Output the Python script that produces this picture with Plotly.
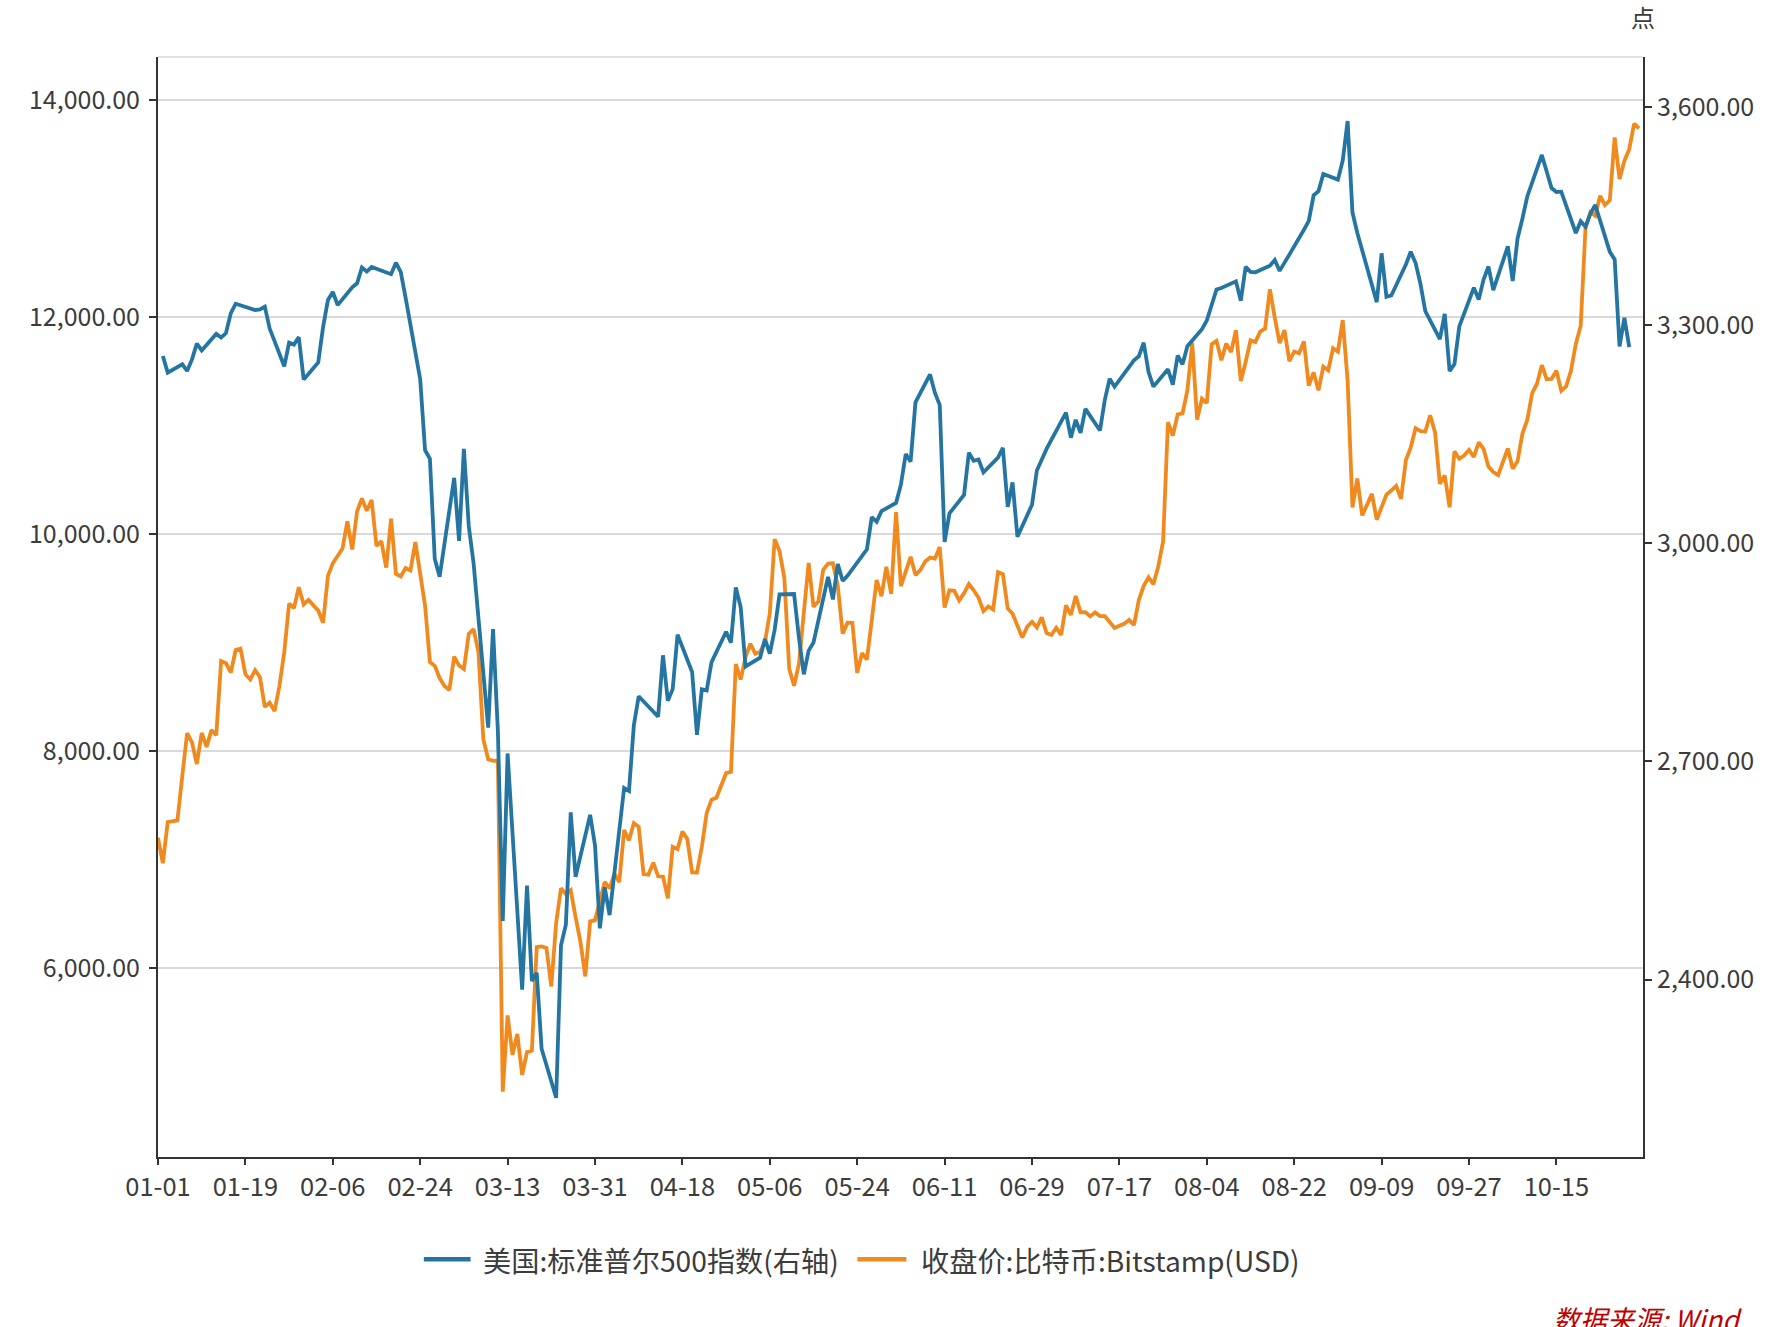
import plotly.graph_objects as go
import pandas as pd

# ---------------- data ----------------
YEAR = "2020"

# S&P 500 trading days (MM-DD) and closes (right axis)
sp_dates = [
    "01-02","01-03","01-06","01-07","01-08","01-09","01-10","01-13","01-14","01-15","01-16","01-17",
    "01-21","01-22","01-23","01-24","01-27","01-28","01-29","01-30","01-31",
    "02-03","02-04","02-05","02-06","02-07","02-10","02-11","02-12","02-13","02-14","02-18","02-19",
    "02-20","02-21","02-24","02-25","02-26","02-27","02-28",
    "03-02","03-03","03-04","03-05","03-06","03-09","03-10","03-11","03-12","03-13","03-16","03-17",
    "03-18","03-19","03-20","03-23","03-24","03-25","03-26","03-27","03-30","03-31",
    "04-01","04-02","04-03","04-06","04-07","04-08","04-09","04-13","04-14","04-15","04-16","04-17",
    "04-20","04-21","04-22","04-23","04-24","04-27","04-28","04-29","04-30",
    "05-01","05-04","05-05","05-06","05-07","05-08","05-11","05-12","05-13","05-14","05-15","05-18",
    "05-19","05-20","05-21","05-22","05-26","05-27","05-28","05-29",
    "06-01","06-02","06-03","06-04","06-05","06-08","06-09","06-10","06-11","06-12","06-15","06-16",
    "06-17","06-18","06-19","06-22","06-23","06-24","06-25","06-26","06-29","06-30",
    "07-01","07-02","07-06","07-07","07-08","07-09","07-10","07-13","07-14","07-15","07-16","07-17",
    "07-20","07-21","07-22","07-23","07-24","07-27","07-28","07-29","07-30","07-31",
    "08-03","08-04","08-05","08-06","08-07","08-10","08-11","08-12","08-13","08-14","08-17","08-18",
    "08-19","08-20","08-21","08-24","08-25","08-26","08-27","08-28","08-31",
    "09-01","09-02","09-03","09-04","09-08","09-09","09-10","09-11","09-14","09-15","09-16","09-17",
    "09-18","09-21","09-22","09-23","09-24","09-25","09-28","09-29","09-30",
    "10-01","10-02","10-05","10-06","10-07","10-08","10-09","10-12","10-13","10-14","10-15","10-16",
    "10-19","10-20","10-21","10-22","10-23","10-26","10-27","10-28","10-29","10-30",
]
sp_close = [
    3257.85, 3234.85, 3246.28, 3237.18, 3253.05, 3274.70, 3265.35, 3288.13, 3283.15, 3289.29, 3316.81, 3329.62,
    3320.79, 3321.75, 3325.54, 3295.47, 3243.63, 3276.24, 3273.40, 3283.66, 3225.52,
    3248.92, 3297.59, 3334.69, 3345.78, 3327.71, 3352.09, 3357.75, 3379.45, 3373.94, 3380.16, 3370.29, 3386.15,
    3373.23, 3337.75, 3225.89, 3128.21, 3116.39, 2978.76, 2954.22,
    3090.23, 3003.37, 3130.12, 3023.94, 2972.37, 2746.56, 2882.23, 2741.38, 2480.64, 2711.02, 2386.13, 2529.19,
    2398.10, 2409.39, 2304.92, 2237.40, 2447.33, 2475.56, 2630.07, 2541.47, 2626.65, 2584.59,
    2470.50, 2526.90, 2488.65, 2663.68, 2659.41, 2749.98, 2789.82, 2761.63, 2846.06, 2783.36, 2799.55, 2874.56,
    2823.16, 2736.56, 2799.31, 2797.80, 2836.74, 2878.48, 2863.39, 2939.51, 2912.43,
    2830.71, 2842.74, 2868.44, 2848.42, 2881.19, 2929.80, 2930.32, 2870.12, 2820.00, 2852.50, 2863.70, 2953.91,
    2922.94, 2971.61, 2948.51, 2955.45, 2991.77, 3036.13, 3029.73, 3044.31,
    3055.73, 3080.82, 3122.87, 3112.35, 3193.93, 3232.39, 3207.18, 3190.14, 3002.10, 3041.31, 3066.59, 3124.74,
    3113.49, 3115.34, 3097.74, 3117.86, 3131.29, 3050.33, 3083.76, 3009.05, 3053.24, 3100.29,
    3115.86, 3130.01, 3179.72, 3145.32, 3169.94, 3152.05, 3185.04, 3155.22, 3197.52, 3226.56, 3215.57, 3224.73,
    3251.84, 3257.30, 3276.02, 3235.66, 3215.63, 3239.41, 3218.44, 3258.44, 3246.22, 3271.12,
    3294.61, 3306.51, 3327.77, 3349.16, 3351.28, 3360.47, 3333.69, 3380.35, 3373.43, 3372.85, 3381.99, 3389.78,
    3374.85, 3385.51, 3397.16, 3431.28, 3443.62, 3478.73, 3484.55, 3508.01, 3500.31,
    3526.65, 3580.84, 3455.06, 3426.96, 3331.84, 3398.96, 3339.19, 3340.97, 3383.54, 3401.20, 3385.49, 3357.01,
    3319.47, 3281.06, 3315.57, 3236.92, 3246.59, 3298.46, 3351.60, 3335.47, 3363.00,
    3380.80, 3348.42, 3408.60, 3360.97, 3419.44, 3446.83, 3477.14, 3534.22, 3511.93, 3488.67, 3483.34, 3483.81,
    3426.92, 3443.12, 3435.56, 3453.49, 3465.39, 3400.97, 3390.68, 3271.03, 3310.11, 3269.96,
]

# Bitcoin (Bitstamp) daily closes, 2020-01-01 .. 2020-11-01 (left axis)
btc_start = "2020-01-01"
btc_close = [
    # Jan
    7200, 6965, 7344, 7351, 7360, 7769, 8163, 8079, 7879, 8166, 8037, 8192, 8145, 8828, 8808, 8723,
    8929, 8942, 8707, 8658, 8745, 8680, 8406, 8445, 8367, 8596, 8910, 9358, 9316, 9508, 9350,
    # Feb
    9392, 9344, 9293, 9180, 9613, 9729, 9795, 9865, 10116, 9856, 10208, 10326, 10214, 10312, 9889,
    9934, 9690, 10141, 9633, 9608, 9686, 9663, 9924, 9650, 9341, 8820, 8784, 8672, 8599,
    # Mar
    8562, 8869, 8787, 8755, 9078, 9122, 8909, 8108, 7923, 7909, 7911, 4860, 5563, 5200, 5392, 5014,
    5225, 5238, 6191, 6198, 6185, 5830, 6416, 6734, 6681, 6716, 6469, 6242, 5922, 6429, 6438,
    # Apr
    6606, 6793, 6733, 6868, 6791, 7271, 7176, 7335, 7302, 6865, 6859, 6971, 6845, 6842, 6642, 7116,
    7096, 7257, 7189, 6881, 6880, 7117, 7429, 7550, 7569, 7679, 7795, 7807, 8801, 8658,
    # May
    8864, 8988, 8897, 8912, 9003, 9268, 9951, 9842, 9593, 8756, 8601, 8804, 9269, 9733, 9328, 9377,
    9670, 9726, 9729, 9522, 9081, 9182, 9180, 8720, 8900, 8842, 9204, 9575, 9427, 9697, 9448,
    # Jun
    10202, 9518, 9666, 9789, 9621, 9666, 9746, 9782, 9772, 9879, 9321, 9480, 9475, 9386, 9454, 9538,
    9480, 9411, 9288, 9332, 9303, 9648, 9629, 9313, 9264, 9162, 9045, 9143, 9190, 9138,
    # Jul
    9232, 9087, 9069, 9135, 9069, 9342, 9253, 9428, 9277, 9278, 9240, 9277, 9243, 9243, 9193, 9133,
    9154, 9171, 9208, 9160, 9390, 9519, 9600, 9537, 9700, 9931, 11029, 10906, 11101, 11111, 11323,
    # Aug
    11760, 11053, 11246, 11205, 11747, 11779, 11601, 11754, 11675, 11878, 11410, 11584, 11784, 11768,
    11865, 11892, 12254, 11991, 11758, 11878, 11592, 11681, 11664, 11774, 11366, 11488, 11323, 11542,
    11507, 11711, 11680,
    # Sep
    11970, 11414, 10245, 10511, 10169, 10280, 10369, 10131, 10242, 10363, 10400, 10442, 10323, 10680,
    10797, 10974, 10948, 10944, 11094, 10938, 10462, 10538, 10246, 10761, 10693, 10723, 10775, 10709,
    10844, 10785,
    # Oct
    10620, 10570, 10542, 10667, 10787, 10600, 10669, 10925, 11050, 11296, 11384, 11555, 11426, 11429,
    11505, 11320, 11360, 11503, 11751, 11917, 12823, 12965, 12932, 13116, 13031, 13075, 13654, 13271,
    13437, 13546, 13780,
    # Nov
    13737,
]

left_ticks = [6000, 8000, 10000, 12000, 14000]
right_ticks = [2400, 2700, 3000, 3300, 3600]

name_sp = "美国:标准普尔500指数(右轴)"
name_btc = "收盘价:比特币:Bitstamp(USD)"

# ---------------- figure ----------------
sp_x = pd.to_datetime([f"{YEAR}-{d}" for d in sp_dates])
btc_x = pd.date_range(btc_start, periods=len(btc_close), freq="D")

BLUE = "#2475a2"
ORANGE = "#f08a1e"
FONT = "Noto Sans CJK SC"
TXT = "#3c3c3c"
AX = "#333333"
LEG_Y = -0.093

fig = go.Figure()
fig.add_trace(go.Scatter(x=sp_x, y=sp_close, name=name_sp, mode="lines",
                         line=dict(color=BLUE, width=3.8), yaxis="y2", showlegend=False))
fig.add_trace(go.Scatter(x=btc_x, y=btc_close, name=name_btc, mode="lines",
                         line=dict(color=ORANGE, width=3.8), yaxis="y", showlegend=False))

# legend drawn as line samples + labels (paper coordinates)
legend_items = [
    (name_sp, BLUE, 0.179, 0.2105, 0.2175),
    (name_btc, ORANGE, 0.471, 0.504, 0.5125),
]
shapes = [dict(type="line", xref="paper", yref="paper", x0=0, x1=1, y0=1, y1=1,
               line=dict(color="#d9d9d9", width=1.5))]
annotations = [
    dict(text="点", xref="paper", yref="paper", x=1.0, y=1.037, xanchor="center",
         yanchor="middle", showarrow=False, font=dict(size=24, color=TXT)),
    dict(text="<i>数据来源: Wind</i>", xref="paper", yref="paper", x=1.068, y=-0.127,
         xanchor="right", yanchor="top", showarrow=False,
         font=dict(size=27, color="#c00000")),
]
for label, color, x0, x1, xt in legend_items:
    shapes.append(dict(type="line", xref="paper", yref="paper", x0=x0, x1=x1, y0=LEG_Y, y1=LEG_Y,
                       line=dict(color=color, width=4.5)))
    annotations.append(dict(text=label, xref="paper", yref="paper", x=xt, y=LEG_Y,
                            xanchor="left", yanchor="middle", showarrow=False,
                            font=dict(size=28.2, color=TXT)))

fig.update_layout(
    width=1788, height=1327,
    paper_bgcolor="white", plot_bgcolor="white",
    margin=dict(l=158, r=145, t=57, b=170, pad=0),
    font=dict(family=FONT, size=25, color=TXT),
    showlegend=False,
    hovermode=False,
    xaxis=dict(
        type="date",
        range=["2020-01-01", "2020-11-01 20:00"],
        tick0="2020-01-01", dtick=18 * 86400000, tickformat="%m-%d",
        showgrid=False, zeroline=False,
        showline=True, linecolor=AX, linewidth=2,
        ticks="outside", ticklen=6, tickwidth=1.5, tickcolor=AX,
        tickfont=dict(size=25.5, color=TXT),
    ),
    yaxis=dict(
        range=[4258, 14395],
        tickvals=left_ticks, tickformat=",.2f",
        showgrid=True, gridcolor="#d9d9d9", gridwidth=1.5,
        zeroline=False,
        showline=True, linecolor=AX, linewidth=2,
        ticks="outside", ticklen=7, tickwidth=1.5, tickcolor=AX,
        ticklabelstandoff=4,
        tickfont=dict(size=25, color=TXT),
    ),
    yaxis2=dict(
        range=[2156, 3669],
        tickvals=right_ticks, tickformat=",.2f",
        overlaying="y", side="right",
        showgrid=False, zeroline=False,
        showline=True, linecolor=AX, linewidth=2,
        ticks="outside", ticklen=7, tickwidth=1.5, tickcolor=AX,
        tickfont=dict(size=25, color=TXT),
    ),
    shapes=shapes,
    annotations=annotations,
)

fig.write_html("out.html", config={"displayModeBar": False},
               post_script="document.body.style.margin='0px';")
